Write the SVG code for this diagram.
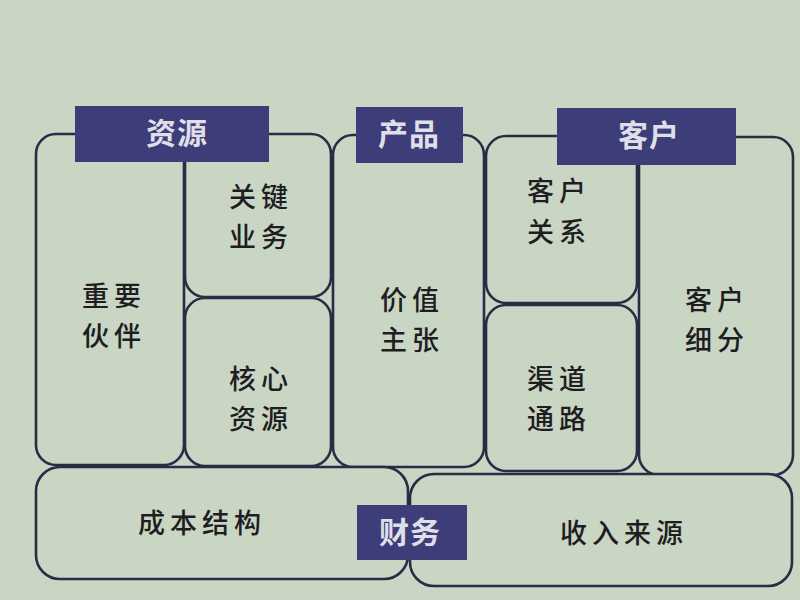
<svg xmlns="http://www.w3.org/2000/svg" width="800" height="600" viewBox="0 0 800 600">
<style>
.bg{fill:#c9d6c4}
.box{fill:#c9d6c4;stroke:#2b2b45;stroke-width:2.6}
.hdr{fill:#3d3d7a}
.lbl{font-family:"Noto Sans CJK SC","Noto Sans CJK TC",sans-serif;font-size:27px;font-weight:500;fill:#1e1e22;text-anchor:middle;letter-spacing:5px}
.htx{font-family:"Noto Sans CJK SC","Noto Sans CJK TC",sans-serif;font-size:30px;font-weight:bold;fill:#dfdfe8;text-anchor:middle;letter-spacing:1px}
</style>
<rect class="bg" x="0" y="0" width="800" height="600"/>
<g id="key-partners"><rect class="box" x="36" y="134" width="148" height="331" rx="20"/><text class="lbl" x="114" y="306">重要</text><text class="lbl" x="114" y="346">伙伴</text></g>
<g id="key-activities"><rect class="box" x="185" y="134" width="146" height="163" rx="20"/><text class="lbl" x="261" y="207">关键</text><text class="lbl" x="261" y="247">业务</text></g>
<g id="key-resources"><rect class="box" x="185" y="298" width="146" height="168" rx="20"/><text class="lbl" x="261" y="389">核心</text><text class="lbl" x="261" y="429">资源</text></g>
<g id="value-proposition"><rect class="box" x="333" y="135" width="151" height="332" rx="20"/><text class="lbl" x="412" y="310">价值</text><text class="lbl" x="412" y="350">主张</text></g>
<g id="customer-relationships"><rect class="box" x="486" y="136" width="151" height="167" rx="20"/><text class="lbl" x="559" y="201">客户</text><text class="lbl" x="559" y="242">关系</text></g>
<g id="channels"><rect class="box" x="486" y="305" width="151" height="166" rx="20"/><text class="lbl" x="559" y="389">渠道</text><text class="lbl" x="559" y="429">通路</text></g>
<g id="customer-segments"><rect class="box" x="639" y="137" width="154" height="338" rx="20"/><text class="lbl" x="717" y="310">客户</text><text class="lbl" x="717" y="350">细分</text></g>
<g id="cost-structure"><rect class="box" x="36" y="467" width="372" height="112" rx="24"/><text class="lbl" x="202" y="533">成本结构</text></g>
<g id="revenue-streams"><rect class="box" x="410" y="474" width="382" height="112" rx="24"/><text class="lbl" x="624" y="543">收入来源</text></g>
<g id="hdr-resources"><rect class="hdr" x="75" y="106" width="194" height="56"/><text class="htx" x="177" y="144">资源</text></g>
<g id="hdr-product"><rect class="hdr" x="356" y="107" width="107" height="56"/><text class="htx" x="409" y="145">产品</text></g>
<g id="hdr-customer"><rect class="hdr" x="557" y="108" width="179" height="57"/><text class="htx" x="649" y="146">客户</text></g>
<g id="hdr-finance"><rect class="hdr" x="357" y="505" width="110" height="55"/><text class="htx" x="410" y="543">财务</text></g>
<g id="connectors"></g>
</svg>
